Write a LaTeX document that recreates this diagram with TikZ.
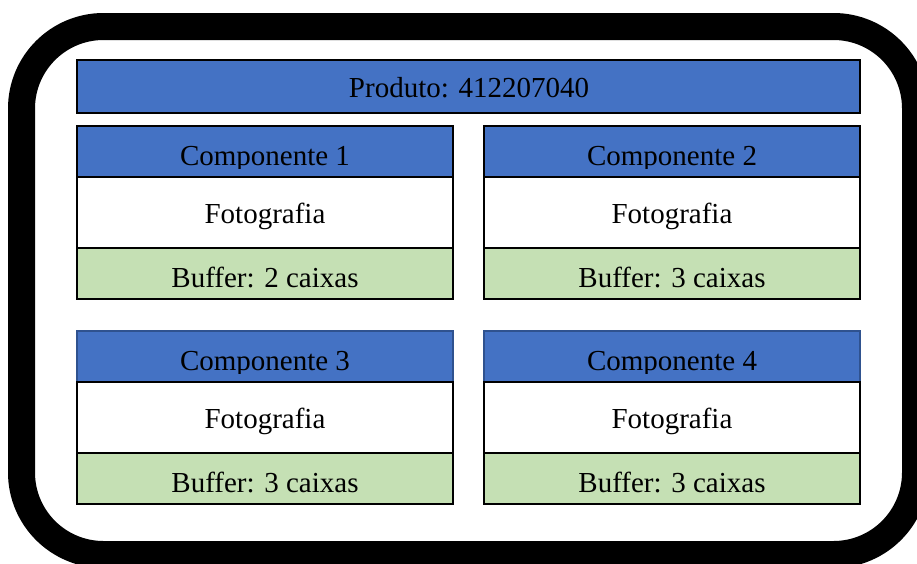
\documentclass[tikz,border=0pt]{standalone}
\usepackage{fontspec}
\setmainfont{Liberation Serif}
\definecolor{hdr}{HTML}{4472C4}
\definecolor{hdrline}{HTML}{2F528F}
\definecolor{buf}{HTML}{C5E0B4}
\begin{document}
\begin{tikzpicture}[x=1pt,y=-1pt,
  txt/.style={anchor=base, inner sep=0pt, font=\fontsize{29}{34}\selectfont},
  box/.style={line width=2pt}]
\useasboundingbox (0,0) rectangle (917,563);
\draw[line width=27pt, rounded corners=82pt] (21.5,26.5) rectangle (915.5,554.5);
% product header
\path[box, draw=black, fill=hdr] (77,60) rectangle (860,113);
\node[txt] (prod) at (469,97) {Produto: 412207040};
% components
\foreach \xl/\yt/\n/\b/\bc in {77/126/1/2/black, 484/126/2/3/black, 77/331/3/3/hdrline, 484/331/4/3/hdrline}{
  \path[box, draw=\bc, fill=hdr] (\xl,\yt) rectangle ({\xl+376},{\yt+51});
  \begin{scope}
    \clip (\xl,\yt) rectangle ({\xl+376},{\yt+42});
    \node[txt] (h\n) at ({\xl+188},{\yt+39}) {Componente \n};
  \end{scope}
  \path[box, draw=black, fill=white] (\xl,{\yt+51}) rectangle ({\xl+376},{\yt+122});
  \node[txt] (f\n) at ({\xl+188},{\yt+97}) {Fotografia};
  \path[box, draw=black, fill=buf] (\xl,{\yt+122}) rectangle ({\xl+376},{\yt+173});
  \node[txt] (b\n) at ({\xl+188},{\yt+161}) {Buffer: \b\ caixas};
}
\end{tikzpicture}
\end{document}
